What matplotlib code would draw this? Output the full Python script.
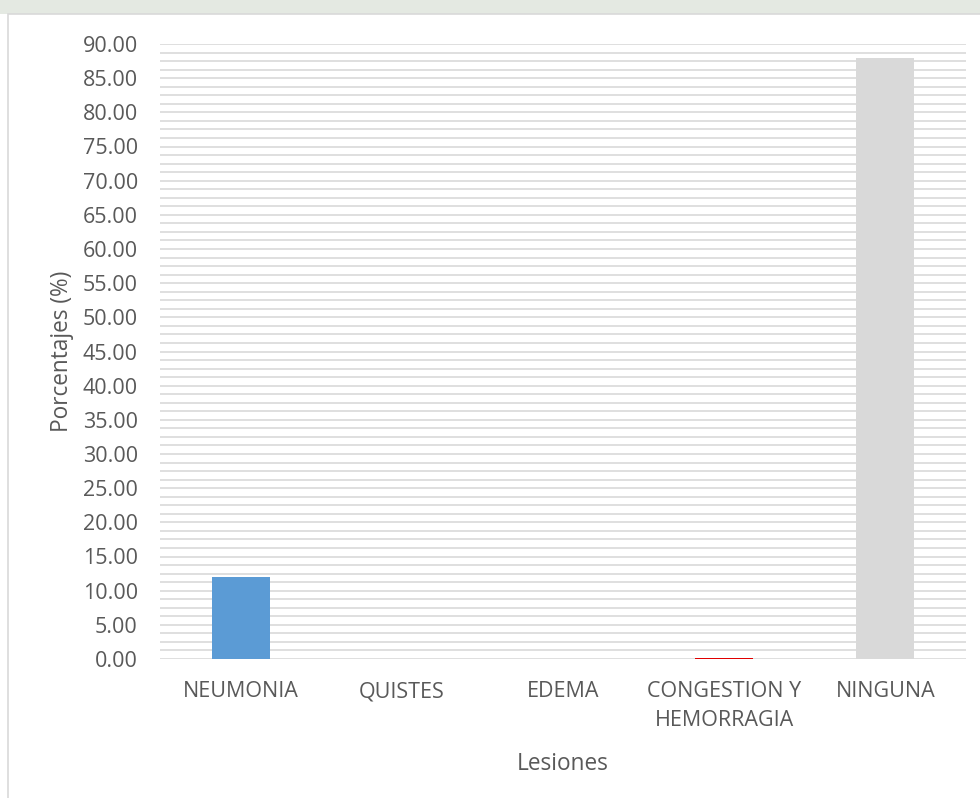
import matplotlib
matplotlib.use("Agg")
import matplotlib.pyplot as plt
import matplotlib.patches as patches
import numpy as np

# ----------------------------------------------------------------------------
# Data
# ----------------------------------------------------------------------------
categories = ["NEUMONIA", "QUISTES", "EDEMA", "CONGESTION Y\nHEMORRAGIA", "NINGUNA"]
percentages = [12.0, 0.0, 0.0, 0.2, 88.0]
bar_colors = ["#5B9BD5", "#5B9BD5", "#5B9BD5", "#E00000", "#D9D9D9"]
y_ticks = np.arange(0, 90.01, 5)
grid_step = 1.25

TEXT_COLOR = "#595959"
GRID_COLOR = "#D9D9D9"

plt.rcParams["font.family"] = ["Open Sans", "DejaVu Sans"]

fig = plt.figure(figsize=(9.8, 7.98), dpi=100)
fig.patch.set_facecolor("white")

# faint band along the top edge and the chart frame (kept behind the axes)
fig.add_artist(patches.Rectangle((0, 1 - 14 / 798), 1, 14 / 798,
                                 transform=fig.transFigure, zorder=-10,
                                 facecolor="#E4E9E2", edgecolor="none"))
fig.add_artist(patches.Rectangle((8 / 980, -0.01), 1.0, 1 - 14 / 798 + 0.01,
                                 transform=fig.transFigure, zorder=-9,
                                 facecolor="white", edgecolor=GRID_COLOR, lw=1.2))

ax = fig.add_axes([160 / 980, 1 - 659 / 798, 806 / 980, 615 / 798])
ax.set_facecolor("none")

x = np.arange(len(categories))
for level in np.arange(0, 90.01, grid_step):
    ax.axhline(level, color=GRID_COLOR, lw=1.2, zorder=1)

ax.bar(x, percentages, width=0.36, color=bar_colors, zorder=2)

ax.set_xlim(-0.5, len(categories) - 0.5)
ax.set_ylim(0, 90)
ax.set_yticks(y_ticks)
ax.set_yticklabels([f"{v:.2f}" for v in y_ticks])
ax.set_xticks(x)
ax.set_xticklabels(categories, linespacing=1.5)

ax.tick_params(axis="both", length=0, colors=TEXT_COLOR, labelsize=15.5)
ax.tick_params(axis="y", pad=16)
ax.tick_params(axis="x", pad=16)
for side in ax.spines.values():
    side.set_visible(False)

ax.set_ylabel("Porcentajes (%)", color=TEXT_COLOR, fontsize=16.3, labelpad=6)
ax.set_xlabel("Lesiones", color=TEXT_COLOR, fontsize=16.3, labelpad=15)

fig.savefig("out.png", dpi=100)
